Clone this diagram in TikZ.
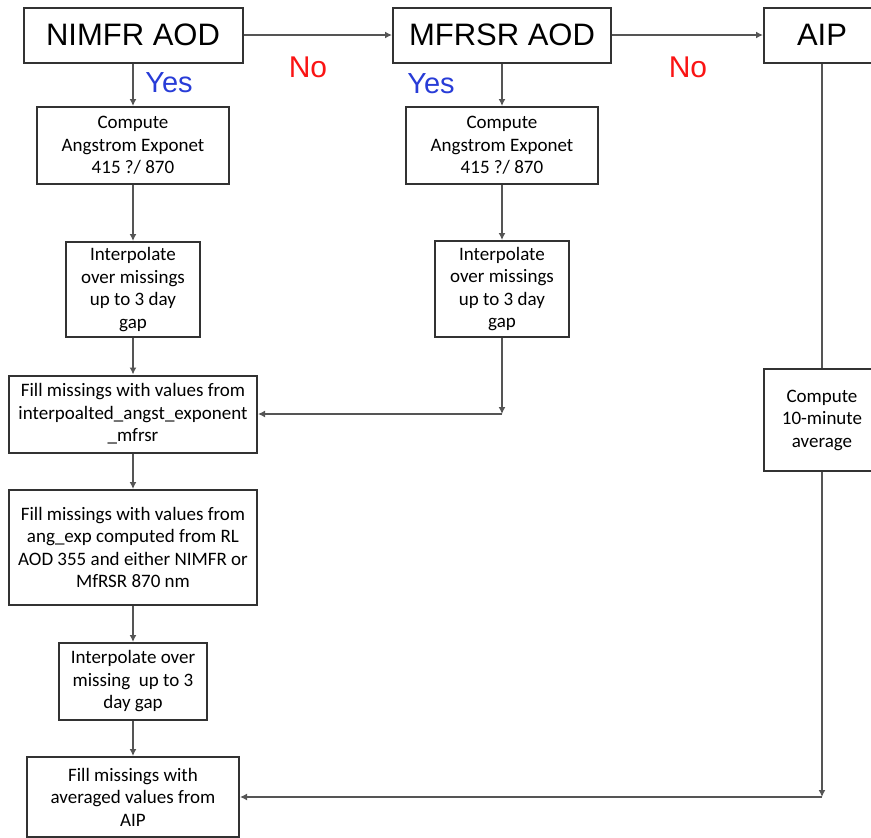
\documentclass[tikz,border=0pt]{standalone}
\usepackage{fontspec}
\setmainfont{Carlito}
\newfontfamily\headfont{Liberation Sans}
\usetikzlibrary{arrows.meta,positioning}
\definecolor{yesblue}{RGB}{40,60,215}
\definecolor{nored}{RGB}{250,20,20}
\definecolor{boxline}{RGB}{50,50,50}
\definecolor{arrowgray}{RGB}{85,85,85}

\begin{document}
\begin{tikzpicture}[x=1pt, y=-1pt,
  stepbox/.style={draw=boxline, line width=2pt, inner sep=0pt, align=center,
    font=\fontsize{19}{22.5}\selectfont},
  headbox/.style={draw=boxline, line width=2pt, inner sep=0pt,
    minimum height=55pt, font=\headfont\fontsize{31}{36}\selectfont},
  flow/.style={draw=arrowgray, line width=2pt, -{Latex[length=7pt,width=7pt]}},
  link/.style={draw=arrowgray, line width=2pt},
  yeslbl/.style={text=yesblue, font=\headfont\fontsize{29}{34}\selectfont},
  nolbl/.style={text=nored, font=\headfont\fontsize{30}{34}\selectfont}]
  \useasboundingbox (0,0) rectangle (871,838);

  %% Top row: data sources
  \node[headbox, minimum width=219pt] (nimfr) at (133,35) {NIMFR AOD};
  \node[headbox, minimum width=218pt] (mfrsr) at (502,35) {MFRSR AOD};
  \node[headbox, minimum width=116pt] (aip) at (822,35) {AIP};
  \draw[flow] (nimfr) -- (mfrsr);
  \draw[flow] (mfrsr) -- (aip);
  \node[nolbl] (noA) at (308,67) {No};
  \node[nolbl] (noB) at (688,67) {No};
  \node[yeslbl] (yesA) at (169,83) {Yes};
  \node[yeslbl] (yesB) at (431,84) {Yes};

  %% Left column: NIMFR branch
  \node[stepbox, minimum width=192pt, minimum height=77pt] (comp1) at (133,145.5)
    {Compute\\Angstrom Exponet\\415 ?/ 870};
  \node[stepbox, minimum width=134pt, minimum height=95pt] (interp1) at (133,289.5)
    {Interpolate\\over missings\\up to 3 day\\gap};
  \node[stepbox, minimum width=248pt, minimum height=77pt] (fill1) at (133,414)
    {Fill missings with values from\\interpoalted\_angst\_exponent\\\_mfrsr};
  \node[stepbox, minimum width=248pt, minimum height=115pt] (fill2) at (133,547.5)
    {Fill missings with values from\\ang\_exp computed from RL\\AOD 355 and either NIMFR or\\MfRSR 870 nm};
  \node[stepbox, minimum width=148pt, minimum height=77pt] (interp3) at (133,681.5)
    {Interpolate over\\missing\ \ up to 3\\day gap};
  \node[stepbox, minimum width=212pt, minimum height=80pt] (fill3) at (133,797)
    {Fill missings with\\averaged values from\\AIP};
  \draw[flow] (nimfr) -- (comp1);
  \draw[flow] (comp1) -- (interp1);
  \draw[flow] (interp1) -- (fill1);
  \draw[flow] (fill1) -- (fill2);
  \draw[flow] (fill2) -- (interp3);
  \draw[flow] (interp3) -- (fill3);

  %% Middle column: MFRSR branch
  \node[stepbox, minimum width=192pt, minimum height=77pt] (comp2) at (502,145.5)
    {Compute\\Angstrom Exponet\\415 ?/ 870};
  \node[stepbox, minimum width=134pt, minimum height=96pt] (interp2) at (502,289)
    {Interpolate\\over missings\\up to 3 day\\gap};
  \coordinate (joinA) at (502,414);
  \draw[flow] (mfrsr) -- (comp2);
  \draw[flow] (comp2) -- (interp2);
  \draw[flow] (interp2) -- (joinA);
  \draw[flow] (joinA) -- (fill1);

  %% Right column: AIP branch
  \node[stepbox, minimum width=116pt, minimum height=102pt] (avg) at (822,420)
    {Compute\\10-minute\\average};
  \coordinate (joinB) at (822,797);
  \draw[link] (aip) -- (avg);
  \draw[flow] (avg) -- (joinB);
  \draw[flow] (joinB) -- (fill3);
\end{tikzpicture}
\end{document}
